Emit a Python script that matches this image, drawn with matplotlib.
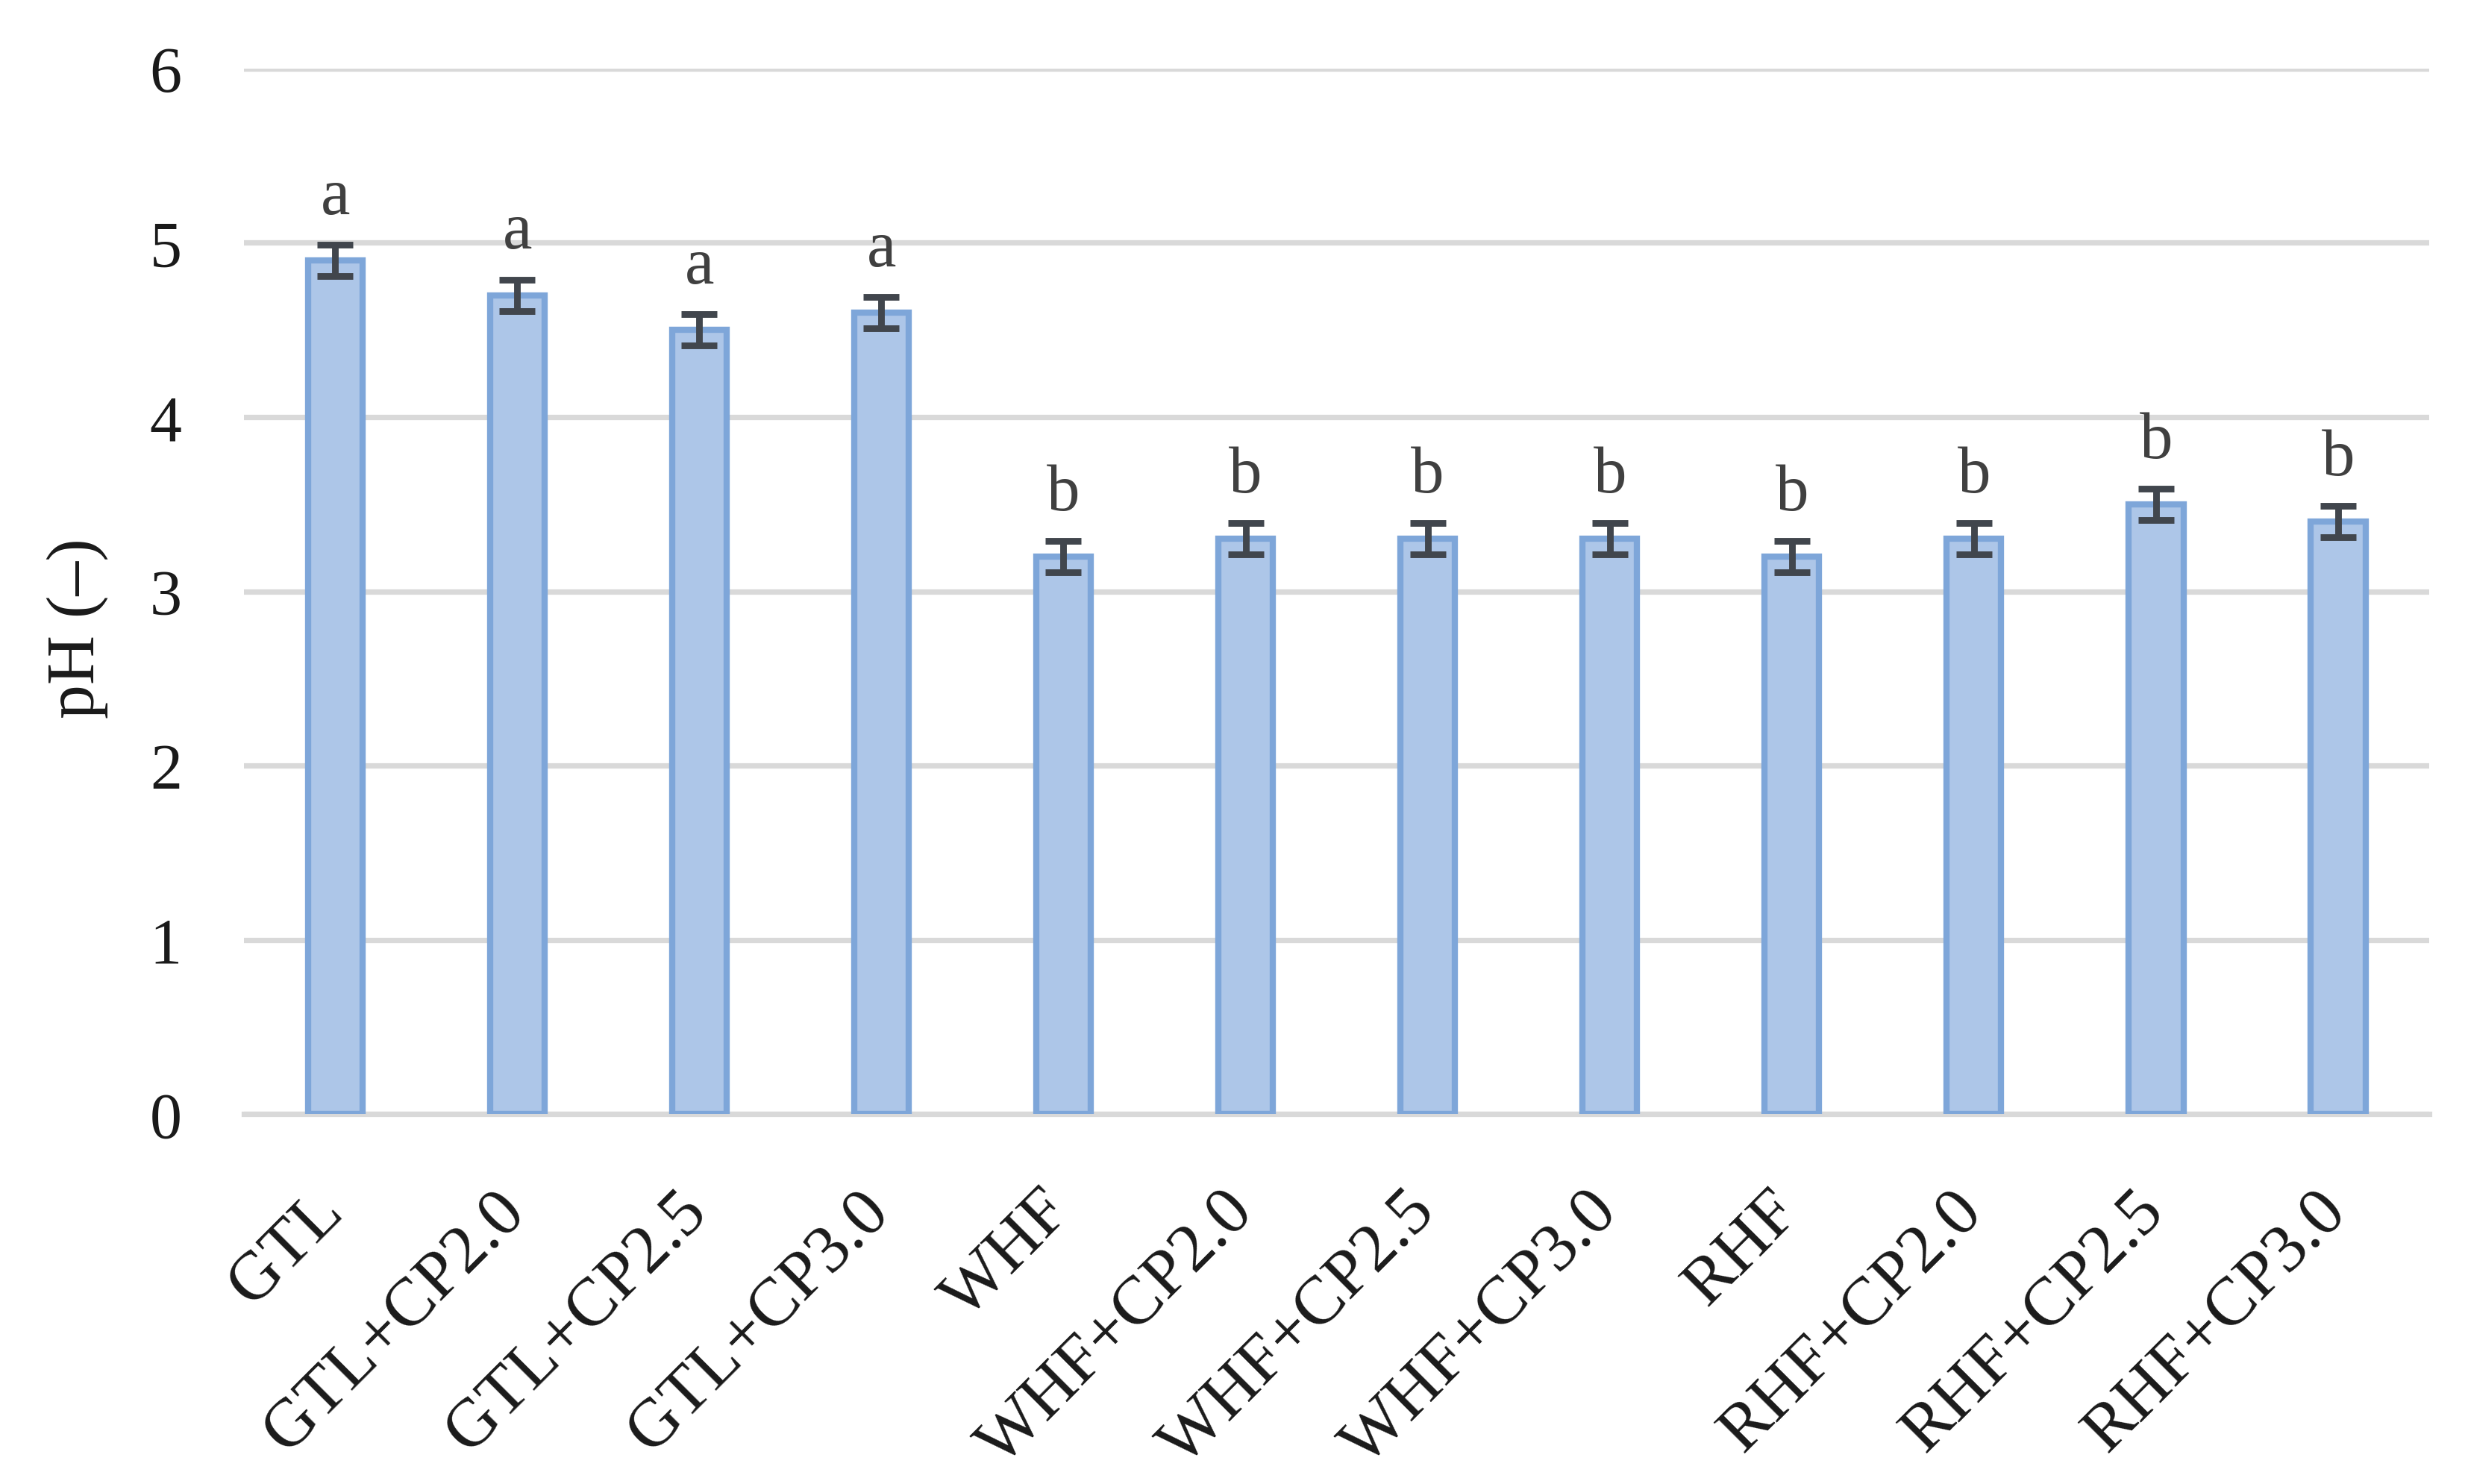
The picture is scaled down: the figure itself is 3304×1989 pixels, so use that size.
import matplotlib
matplotlib.use("Agg")
import matplotlib.pyplot as plt
import matplotlib.transforms as mtransforms
import numpy as np

categories = ["GTL", "GTL+CP2.0", "GTL+CP2.5", "GTL+CP3.0", "WHF", "WHF+CP2.0",
              "WHF+CP2.5", "WHF+CP3.0", "RHF", "RHF+CP2.0", "RHF+CP2.5", "RHF+CP3.0"]
ph_values = [4.9, 4.7, 4.5, 4.6, 3.2, 3.3, 3.3, 3.3, 3.2, 3.3, 3.5, 3.4]
ph_errors = [0.09, 0.09, 0.09, 0.09, 0.09, 0.09, 0.09, 0.09, 0.09, 0.09, 0.09, 0.09]
letters = ["a", "a", "a", "a", "b", "b", "b", "b", "b", "b", "b", "b"]
y_ticks = [0, 1, 2, 3, 4, 5, 6]

plt.rcParams['font.family'] = ['Liberation Serif', 'DejaVu Serif']

fig = plt.figure(figsize=(16.52, 9.95), dpi=200)
ax = fig.add_axes([0.099, 0.2492, 0.8865, 0.7041])

x = np.arange(len(categories))
ax.bar(x, ph_values, width=0.3, color='#ADC6E8', edgecolor='#7EA6D9',
       linewidth=3.0, zorder=3)
ax.errorbar(x, ph_values, yerr=ph_errors, fmt='none', ecolor='#41464D',
            elinewidth=3.2, capsize=8.5, capthick=3.2, zorder=4)

for xi, v, e, l in zip(x, ph_values, ph_errors, letters):
    ax.text(xi, v + e + 0.18, l, ha='center', va='baseline', fontsize=32,
            color='#404040', zorder=5)

ax.set_xlim(-0.5, len(categories) - 0.5)
ax.set_ylim(0, 6)
ax.set_yticks(y_ticks)
ax.set_yticklabels([str(t) for t in y_ticks], fontsize=31, color='#1a1a1a')
ax.tick_params(axis='y', length=0, pad=30)
ax.yaxis.grid(True, color='#D9D9D9', linewidth=2.6, zorder=0)
ax.set_axisbelow(True)

ax.set_xticks(x)
ax.set_xticklabels(categories, rotation=45, ha='right', va='center',
                   rotation_mode='anchor', fontsize=33, color='#1a1a1a')
ax.tick_params(axis='x', length=0, pad=42)
offset = mtransforms.ScaledTranslation(-1 / 72, 0, fig.dpi_scale_trans)
for lab in ax.get_xticklabels():
    lab.set_transform(lab.get_transform() + offset)

for s in ['top', 'right', 'left']:
    ax.spines[s].set_visible(False)
ax.spines['bottom'].set_color('#D9D9D9')
ax.spines['bottom'].set_linewidth(2.6)

ax.set_ylabel("pH (–)", fontsize=33, color='#1a1a1a', labelpad=22)
ax.yaxis.set_label_coords(-0.062, 0.465)

fig.savefig("out.png", dpi=200, facecolor='white')
